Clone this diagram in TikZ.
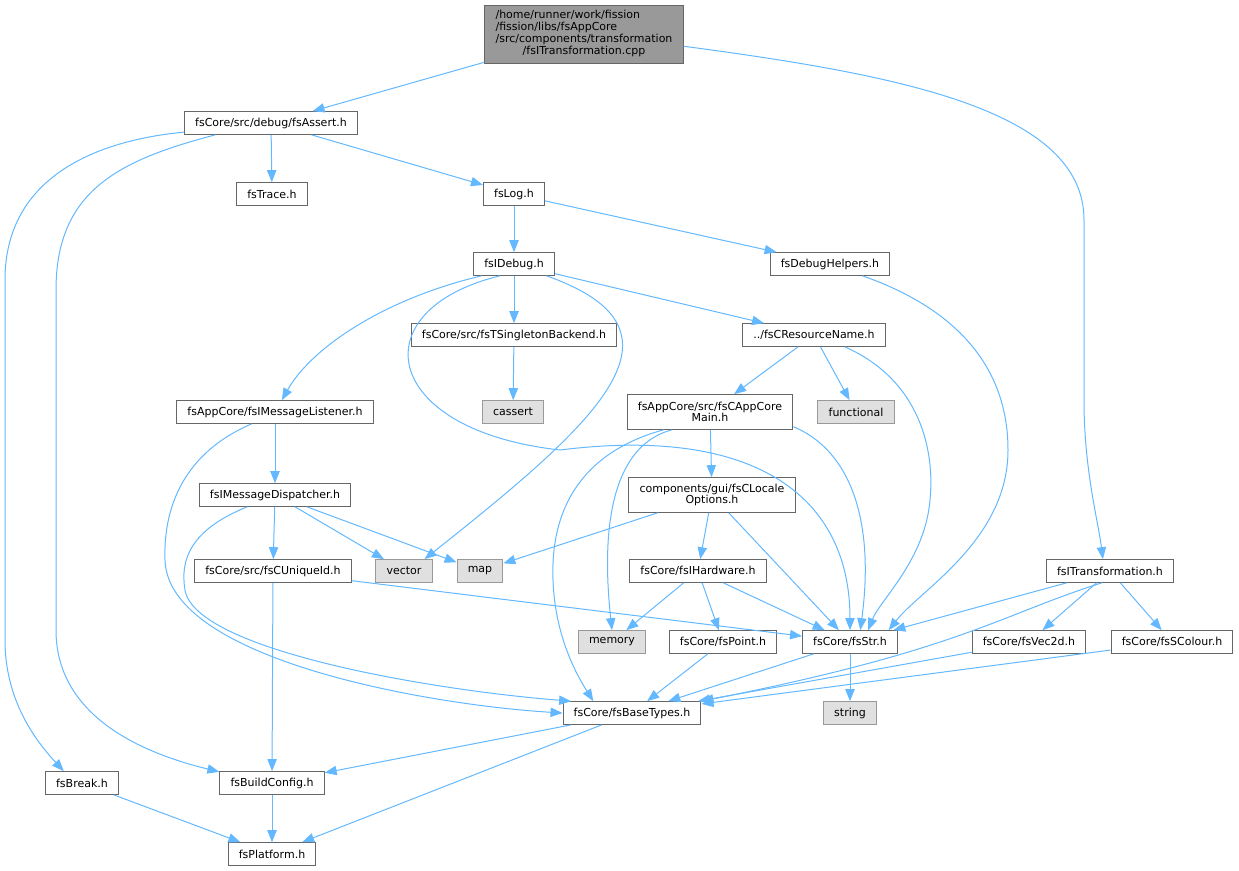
\documentclass[tikz,border=0pt]{standalone}
\usepackage{fontspec}
\setmainfont{DejaVu Sans}
\usetikzlibrary{arrows.meta}
\definecolor{edgeblue}{HTML}{63B8FF}
\definecolor{boxline}{HTML}{666666}
\definecolor{sysfill}{HTML}{E0E0E0}
\definecolor{sysline}{HTML}{999999}
\definecolor{rootfill}{HTML}{999999}

\begin{document}
\begin{tikzpicture}[x=0.75pt, y=-0.75pt,
    font=\fontsize{8.25}{8.8}\selectfont,
    file/.style={draw=boxline, fill=white, line width=0.75pt, inner xsep=8pt, inner ysep=2pt, minimum height=17pt},
    twoline/.style={file, align=center, minimum height=26pt},
    sys/.style={file, draw=sysline, fill=sysfill},
    dep/.style={draw=edgeblue, line width=0.75pt, -{Triangle[length=9pt,width=7pt]}}]
    \useasboundingbox (0,0) rectangle (1239,871);

    % the file itself
    \node[file, fill=rootfill, minimum height=43.5pt] (root) at (584,34)
        {\begin{tabular}{@{}l@{}}/home/runner/work/fission\\/fission/libs/fsAppCore\\/src/components/transformation\\\multicolumn{1}{@{}c@{}}{/fsITransformation.cpp}\end{tabular}};

    % headers
    \node[file] (assert) at (271,123) {fsCore/src/debug/fsAssert.h};
    \node[file] (trace) at (272,194) {fsTrace.h};
    \node[file] (log) at (514,194) {fsLog.h};
    \node[file] (idebug) at (514,264) {fsIDebug.h};
    \node[file] (dbghelp) at (830,264) {fsDebugHelpers.h};
    \node[file] (singleton) at (514,335) {fsCore/src/fsTSingletonBackend.h};
    \node[file] (resname) at (814,335) {../fsCResourceName.h};
    \node[twoline] (appmain) at (710,412) {fsAppCore/src/fsCAppCore\\Main.h};
    \node[file] (msglisten) at (275,412) {fsAppCore/fsIMessageListener.h};
    \node[file] (msgdisp) at (275,495) {fsIMessageDispatcher.h};
    \node[twoline] (locale) at (712,495) {components/gui/fsCLocale\\Options.h};
    \node[file] (uniqueid) at (273,571) {fsCore/src/fsCUniqueId.h};
    \node[file] (hardware) at (698,571) {fsCore/fsIHardware.h};
    \node[file] (itrans) at (1110,571) {fsITransformation.h};
    \node[file] (point) at (723,642) {fsCore/fsPoint.h};
    \node[file] (str) at (850,642) {fsCore/fsStr.h};
    \node[file] (vec2d) at (1029,642) {fsCore/fsVec2d.h};
    \node[file] (scolour) at (1172,642) {fsCore/fsSColour.h};
    \node[file] (basetypes) at (632,713) {fsCore/fsBaseTypes.h};
    \node[file] (brk) at (82,783) {fsBreak.h};
    \node[file] (buildcfg) at (272,783) {fsBuildConfig.h};
    \node[file] (platform) at (272,854) {fsPlatform.h};

    % system headers
    \node[sys] (cassert) at (513,412) {cassert};
    \node[sys] (functional) at (856,412) {functional};
    \node[sys] (vector) at (404,571) {vector};
    \node[sys] (map) at (480,571) {map};
    \node[sys] (memory) at (612,642) {memory};
    \node[sys] (string) at (850,713) {string};

    % includes
    \draw[dep] (root) -- (assert);
    \draw[dep] (root.-7) .. controls (900,75) and (1084,110) .. (1084,220) -- (1084,400) .. controls (1084,470) and (1098,520) .. (itrans.121);
    \draw[dep] (assert) -- (trace);
    \draw[dep] (assert) -- (log);
    \draw[dep] (assert.-174) .. controls (100,140) and (5,175) .. (5,280) -- (5,640) .. controls (5,700) and (35,740) .. (brk.147);
    \draw[dep] (assert.-168) .. controls (120,160) and (56,190) .. (56,290) -- (56,630) .. controls (56,720) and (150,755) .. (buildcfg.168);
    \draw[dep] (log) -- (idebug);
    \draw[dep] (log) -- (dbghelp);
    \draw[dep] (dbghelp.-20) .. controls (960,310) and (1008,370) .. (1008,450) .. controls (1008,540) and (920,590) .. (str.17);
    \draw[dep] (idebug.-160) .. controls (380,300) and (310,350) .. (msglisten.60);
    \draw[dep] (idebug.-140) .. controls (360,310) and (380,430) .. (560,450) .. controls (760,425) and (850,500) .. (str.north);
    \draw[dep] (idebug) -- (singleton);
    \draw[dep] (idebug.-20) .. controls (700,330) and (600,420) .. (vector.30);
    \draw[dep] (idebug) -- (resname);
    \draw[dep] (singleton) -- (cassert);
    \draw[dep] (resname) -- (appmain);
    \draw[dep] (resname) -- (functional);
    \draw[dep] (resname.-21) .. controls (920,380) and (935,450) .. (930,500) .. controls (925,560) and (880,600) .. (str.33);
    \draw[dep] (appmain.-159) .. controls (590,450) and (550,500) .. (553,580) .. controls (555,640) and (580,680) .. (basetypes.163);
    \draw[dep] (appmain.-155) .. controls (615,445) and (600,520) .. (memory.north);
    \draw[dep] (appmain) -- (locale);
    \draw[dep] (appmain.-10) .. controls (850,450) and (875,520) .. (str.49);
    \draw[dep] (msglisten) -- (msgdisp);
    \draw[dep] (msglisten.-153) .. controls (190,450) and (163,500) .. (165,560) .. controls (168,660) and (430,705) .. (basetypes.west);
    \draw[dep] (msgdisp.-157) .. controls (190,530) and (180,560) .. (185,590) .. controls (195,650) and (430,690) .. (basetypes.169);
    \draw[dep] (msgdisp) -- (uniqueid);
    \draw[dep] (msgdisp) -- (vector);
    \draw[dep] (msgdisp) -- (map);
    \draw[dep] (locale) -- (map);
    \draw[dep] (locale) -- (hardware);
    \draw[dep] (locale) -- (str);
    \draw[dep] (uniqueid) -- (buildcfg);
    \draw[dep] (uniqueid) -- (str);
    \draw[dep] (hardware) -- (memory);
    \draw[dep] (hardware) -- (point);
    \draw[dep] (hardware) -- (str);
    \draw[dep] (itrans) -- (str);
    \draw[dep] (itrans.-125) .. controls (1000,615) and (960,650) .. (basetypes.north east);
    \draw[dep] (itrans) -- (vec2d);
    \draw[dep] (itrans) -- (scolour);
    \draw[dep] (point) -- (basetypes);
    \draw[dep] (str) -- (basetypes);
    \draw[dep] (str) -- (string);
    \draw[dep] (vec2d) -- (basetypes);
    \draw[dep] (scolour) -- (basetypes);
    \draw[dep] (basetypes) -- (buildcfg);
    \draw[dep] (basetypes) -- (platform);
    \draw[dep] (buildcfg) -- (platform);
    \draw[dep] (brk) -- (platform);
\end{tikzpicture}
\end{document}
